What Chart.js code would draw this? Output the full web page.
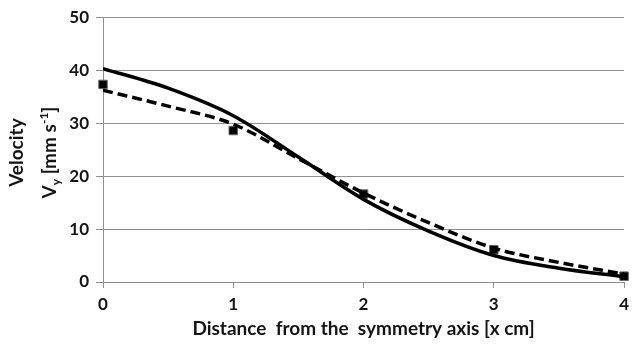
<!DOCTYPE html>
<html>
<head>
<meta charset="utf-8">
<script src="https://cdn.jsdelivr.net/npm/chart.js@4"></script>
<style>
  html, body { margin: 0; padding: 0; background: #fff; }
  #wrap { width: 635px; height: 348px; position: relative; }
</style>
</head>
<body>
<div id="wrap"><canvas id="velocityChart"></canvas></div>
<script>
// x positions (cm) and velocities (mm/s)
const xPos = [0, 0.5, 1, 1.5, 2, 2.5, 3, 3.5, 4];
const modelVy = [40.3, 36.6, 31.4, 23.6, 15.6, 9.6, 5.0, 2.6, 1.0];
const fitVy = [36.2, 33.2, 29.8, 23.3, 16.8, 11.2, 6.4, 3.7, 1.5];
const measX = [0, 1, 2, 3, 4];
const measVy = [37.3, 28.6, 16.6, 6.1, 1.1];
const yTicks = [0, 10, 20, 30, 40, 50];

const FONT = 'Lato, "Open Sans", sans-serif';
const TEXT = '#141414';
const GRID = '#8f8f8f';

const toPoints = (xs, ys) => xs.map((x, i) => ({ x: x, y: ys[i] }));

// axis titles, drawn by hand because of the sub/superscript
const axisTitles = {
   id: 'axisTitles',
   afterDraw(chart) {
      const ctx = chart.ctx;
      const area = chart.chartArea;
      ctx.save();
      ctx.fillStyle = TEXT;
      ctx.textBaseline = 'middle';

      // x title
      ctx.font = 'bold 19px ' + FONT;
      ctx.textAlign = 'center';
      ctx.fillText('Distance  from the  symmetry axis [x cm]', (area.left + area.right) / 2, 329);

      // y title, two lines rotated
      const cy = (area.top + area.bottom) / 2 + 3;
      ctx.translate(17, cy);
      ctx.rotate(-Math.PI / 2);
      ctx.fillText('Velocity', 0, 0);
      ctx.restore();

      ctx.save();
      ctx.fillStyle = TEXT;
      ctx.textBaseline = 'alphabetic';
      ctx.translate(50, cy);
      ctx.rotate(-Math.PI / 2);
      const big = 'bold 19px ' + FONT;
      const small = 'bold 12px ' + FONT;
      const parts = [
         { t: 'V', f: big, dy: 0 },
         { t: 'y', f: small, dy: 4 },
         { t: ' [mm s', f: big, dy: 0 },
         { t: '-1', f: small, dy: -8 },
         { t: ']', f: big, dy: 0 }
      ];
      let total = 0;
      parts.forEach(p => { ctx.font = p.f; p.w = ctx.measureText(p.t).width; total += p.w; });
      let x = -total / 2;
      ctx.textAlign = 'left';
      parts.forEach(p => {
         ctx.font = p.f;
         ctx.fillText(p.t, x, 6 + p.dy);
         x += p.w;
      });
      ctx.restore();
   }
};

const ctx = document.getElementById('velocityChart').getContext('2d');
new Chart(ctx, {
   type: 'line',
   data: {
      datasets: [{
         label: 'model',
         data: toPoints(xPos, modelVy),
         borderColor: '#000',
         borderWidth: 3.5,
         pointRadius: 0,
         cubicInterpolationMode: 'monotone',
         fill: false
      }, {
         label: 'fit',
         data: toPoints(xPos, fitVy),
         borderColor: '#000',
         borderWidth: 3.5,
         borderDash: [10, 5],
         pointRadius: 0,
         cubicInterpolationMode: 'monotone',
         fill: false
      }, {
         label: 'measured',
         data: toPoints(measX, measVy),
         showLine: false,
         pointStyle: 'rect',
         pointRadius: 6,
         pointBackgroundColor: '#000',
         pointBorderColor: '#666',
         pointBorderWidth: 1,
         clip: false
      }]
   },
   options: {
      responsive: true,
      maintainAspectRatio: false,
      animation: false,
      layout: { padding: { top: 13, right: 7, left: 0, bottom: 0 } },
      plugins: {
         legend: { display: false },
         tooltip: { enabled: false }
      },
      scales: {
         x: {
            type: 'linear',
            min: 0,
            max: 4,
            ticks: {
               stepSize: 1,
               color: TEXT,
               font: { family: FONT, size: 17, weight: 'bold' },
               padding: 6
            },
            grid: {
               drawOnChartArea: false,
               drawTicks: true,
               tickLength: 6,
               color: GRID
            },
            border: { display: true, color: GRID, width: 1 },
            afterFit(scale) { scale.height = 66; }
         },
         y: {
            min: 0,
            max: 50,
            afterBuildTicks(scale) { scale.ticks = yTicks.map(v => ({ value: v })); },
            ticks: {
               color: TEXT,
               font: { family: FONT, size: 17, weight: 'bold' },
               padding: 7
            },
            grid: {
               color: GRID,
               tickLength: 7
            },
            border: { display: true, color: GRID, width: 1 },
            afterFit(scale) { scale.width = 103; }
         }
      }
   },
   plugins: [axisTitles]
});
</script>
</body>
</html>
